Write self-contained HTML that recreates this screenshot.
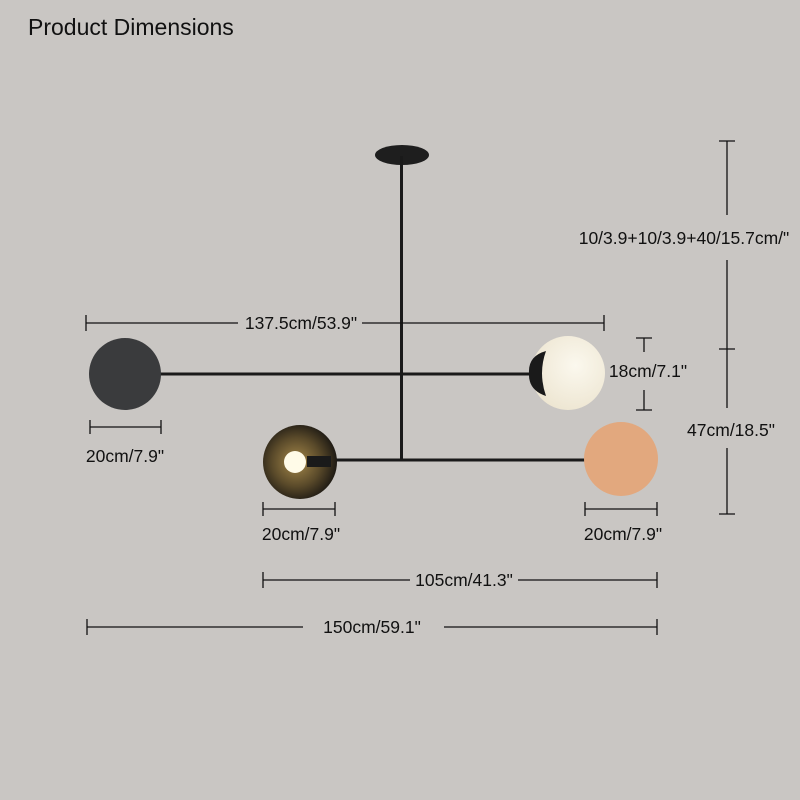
<!DOCTYPE html>
<html><head><style>html,body{margin:0;padding:0;background:#c9c6c3;}svg{display:block}</style></head>
<body>
<svg width="800" height="800" viewBox="0 0 800 800" xmlns="http://www.w3.org/2000/svg" font-family="Liberation Sans, sans-serif">
<defs>
<radialGradient id="globe" cx="0.6" cy="0.4" r="0.7"><stop offset="0" stop-color="#fbf8ee"/><stop offset="1" stop-color="#ece4cf"/></radialGradient>
<radialGradient id="shade" cx="0.45" cy="0.5" r="0.55"><stop offset="0" stop-color="#a5884a"/><stop offset="0.6" stop-color="#5a4a2a"/><stop offset="1" stop-color="#1e1a14"/></radialGradient>
</defs>
<rect width="800" height="800" fill="#c9c6c3"/>
<text x="28" y="35" font-size="23" fill="#111">Product Dimensions</text>
<!-- fixture -->
<ellipse cx="402" cy="155" rx="27" ry="10" fill="#1e1e1e"/>
<rect x="400" y="156" width="3" height="305" fill="#1a1a1a"/>
<rect x="160" y="372.5" width="372" height="3" fill="#1a1a1a"/>
<circle cx="125" cy="374" r="36" fill="#3a3b3d"/>
<circle cx="568" cy="373" r="37" fill="url(#globe)"/>
<path d="M546 351 Q528 356 529 373 Q528 390 546 396 Q538 373 546 351 Z" fill="#1a1a1a"/>
<rect x="330" y="458.5" width="256" height="3" fill="#1a1a1a"/>
<circle cx="300" cy="462" r="37" fill="url(#shade)"/>
<rect x="307" y="456" width="24" height="11" fill="#1a1a1a"/>
<circle cx="295" cy="462" r="11" fill="#fffbe8"/>
<circle cx="621" cy="459" r="37" fill="#e2a87e"/>
<!-- dims -->
<g stroke="#111" stroke-width="1.3" fill="none">
<path d="M86 323H238M362 323H604M86 315V331M604 315V331"/>
<path d="M90 427H161M90 420V434M161 420V434"/>
<path d="M263 509H335M263 502V516M335 502V516"/>
<path d="M585 509H657M585 502V516M657 502V516"/>
<path d="M263 580H410M518 580H657M263 572V588M657 572V588"/>
<path d="M87 627H303M444 627H657M87 619V635M657 619V635"/>
<path d="M644 338V352M636 338H652M644 390V410M636 410H652"/>
<path d="M727 141V215M727 260V408M727 448V514M719 141H735M719 349H735M719 514H735"/>
</g>
<g font-size="17.5" fill="#111" text-anchor="middle">
<text x="301" y="329">137.5cm/53.9"</text>
<text x="125" y="462">20cm/7.9"</text>
<text x="301" y="540">20cm/7.9"</text>
<text x="623" y="540">20cm/7.9"</text>
<text x="464" y="586">105cm/41.3"</text>
<text x="372" y="633">150cm/59.1"</text>
<text x="648" y="377">18cm/7.1"</text>
<text x="684" y="244">10/3.9+10/3.9+40/15.7cm/"</text>
<text x="731" y="436">47cm/18.5"</text>
</g>
</svg>
</body></html>
